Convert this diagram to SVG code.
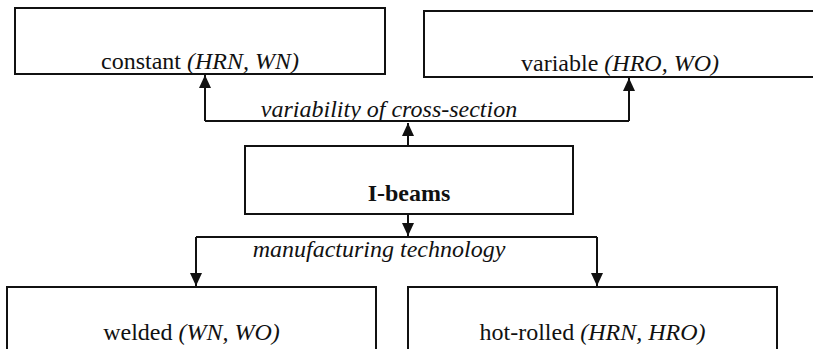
<svg xmlns="http://www.w3.org/2000/svg" width="813" height="349" viewBox="0 0 813 349">
<defs>
<style>
.box{fill:#fff;stroke:#111;stroke-width:2}
.t{font-family:'Liberation Serif','DejaVu Serif','Times New Roman',Times,serif;font-size:24px;fill:#111;text-anchor:middle}
.i{font-style:italic}
.b{font-weight:bold}
.c{fill:none;stroke:#111;stroke-width:2}
</style>
<marker id="ah" viewBox="0 0 13 12" refX="13" refY="6" markerWidth="13" markerHeight="12" markerUnits="userSpaceOnUse" orient="auto">
<path d="M0,0 L13,6 L0,12 Z" fill="#111"/>
</marker>
</defs>
<rect width="813" height="349" fill="#fff"/>
<g id="connectors">
<path class="c" d="M408,146 V123" marker-end="url(#ah)"/>
<path class="c" d="M205,121 H629"/>
<path class="c" d="M205,121 V75" marker-end="url(#ah)"/>
<path class="c" d="M629,121 V78" marker-end="url(#ah)"/>
<path class="c" d="M408,214 V236" marker-end="url(#ah)"/>
<path class="c" d="M196,237 H597"/>
<path class="c" d="M196,237 V286" marker-end="url(#ah)"/>
<path class="c" d="M597,237 V286" marker-end="url(#ah)"/>
<text class="t i" x="389" y="117" font-family="Liberation Serif, serif">variability of cross-section</text>
<text class="t i" x="379" y="257" font-family="Liberation Serif, serif">manufacturing technology</text>
</g>
<g id="constant">
<rect class="box" x="15" y="8" width="370" height="66"/>
<text class="t" x="200" y="69" font-family="Liberation Serif, serif">constant <tspan class="i">(HRN, WN)</tspan></text>
</g>
<g id="variable">
<rect class="box" x="424" y="11" width="392" height="66"/>
<text class="t" x="620" y="71" font-family="Liberation Serif, serif">variable <tspan class="i">(HRO, WO)</tspan></text>
</g>
<g id="ibeams">
<rect class="box" x="245" y="146" width="328" height="68"/>
<text class="t b" x="409" y="201" font-family="Liberation Serif, serif">I-beams</text>
</g>
<g id="welded">
<rect class="box" x="7" y="287" width="369" height="80"/>
<text class="t" x="191.5" y="340" font-family="Liberation Serif, serif">welded <tspan class="i">(WN, WO)</tspan></text>
</g>
<g id="hotrolled">
<rect class="box" x="408" y="287" width="369" height="80"/>
<text class="t" x="592.5" y="340" font-family="Liberation Serif, serif">hot-rolled <tspan class="i">(HRN, HRO)</tspan></text>
</g>
</svg>
